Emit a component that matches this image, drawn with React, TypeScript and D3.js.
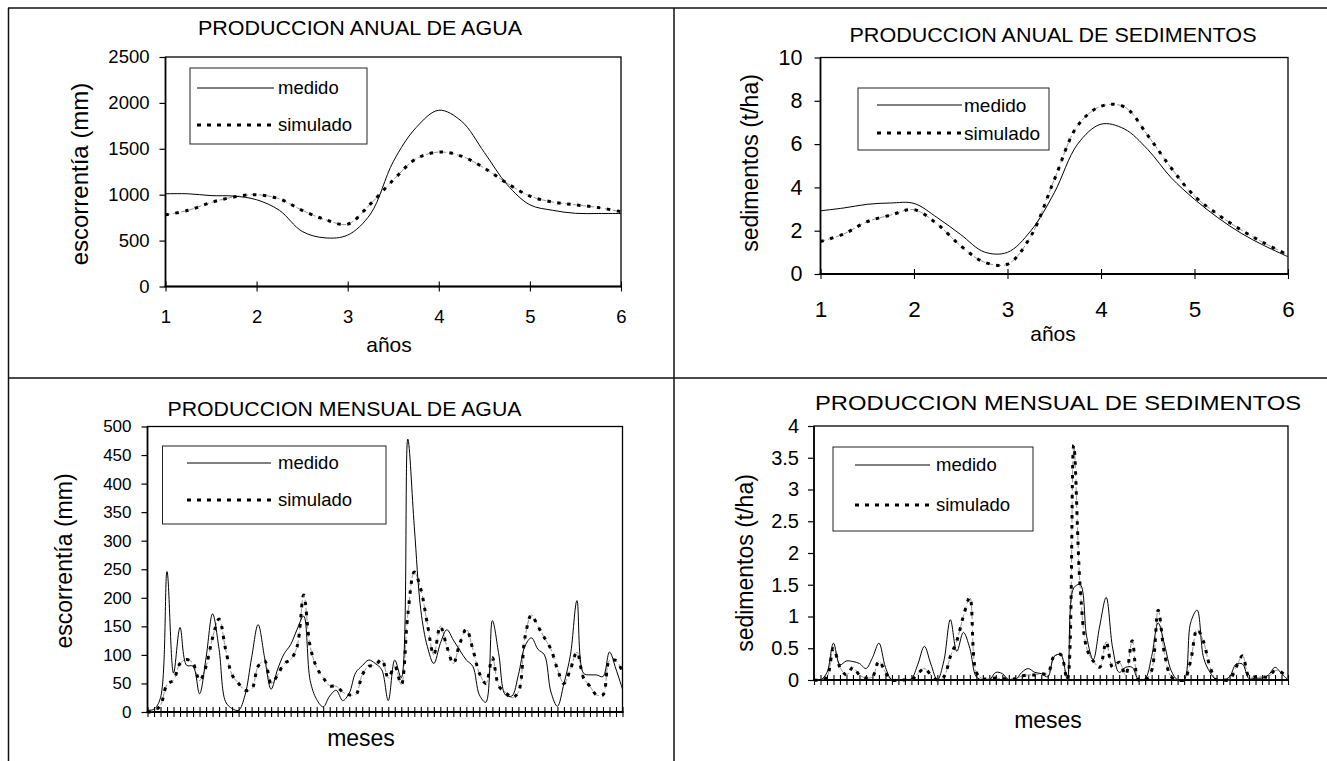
import React, { useEffect, useRef } from "react";
import * as d3 from "d3";

// annual charts: values read at quarter-year steps
const years = [1, 1.25, 1.5, 1.75, 2, 2.25, 2.5, 2.75, 3, 3.25, 3.5, 3.75, 4, 4.25, 4.5, 4.75, 5, 5.25, 5.5, 5.75, 6];
const yearTicks = [1, 2, 3, 4, 5, 6];

const aguaAnualMedido = [1010, 1010, 990, 985, 945, 830, 600, 530, 560, 790, 1360, 1730, 1920, 1800, 1460, 1110, 890, 830, 797, 795, 795];
const aguaAnualSimulado = [780, 830, 915, 975, 1000, 955, 830, 730, 680, 900, 1160, 1390, 1465, 1420, 1290, 1125, 985, 920, 890, 860, 815];

const sedAnualMedido = [2.92, 3.05, 3.22, 3.28, 3.26, 2.6, 1.82, 1.02, 1.0, 2.0, 3.75, 6.0, 6.92, 6.7, 5.75, 4.45, 3.45, 2.6, 1.88, 1.3, 0.8];
const sedAnualSimulado = [1.5, 1.85, 2.42, 2.72, 2.97, 2.3, 1.3, 0.55, 0.45, 1.75, 4.35, 6.85, 7.75, 7.72, 6.4, 4.9, 3.6, 2.75, 2.03, 1.42, 0.88];

// monthly charts: 74 months
const aguaMensualMedido = [
  3, 5, 25, 246, 68, 148, 82, 80, 32, 95,
  172, 110, 18, 6, 3, 30, 95, 153, 95, 40,
  75, 102, 118, 145, 168, 55, 22, 9, 28, 38,
  20, 33, 69, 81, 91, 85, 74, 20, 91, 60,
  478, 325, 179, 115, 85, 120, 144, 126, 108, 91,
  80, 30, 17, 160, 100, 30, 28, 65, 115, 130,
  110, 100, 35, 10, 50, 100, 195, 68, 65, 65,
  62, 105, 75, 40,
];
const aguaMensualSimulado = [
  0, 2, 12, 48, 56, 85, 92, 85, 55, 80,
  130, 163, 110, 65, 50, 38, 40, 80, 90, 50,
  65, 85, 92, 115, 205, 115, 78, 60, 46, 45,
  35, 30, 30, 65, 80, 82, 92, 60, 80, 48,
  170, 245, 215, 155, 100, 150, 115, 85, 120, 145,
  110, 68, 50, 95, 45, 35, 25, 35, 130, 170,
  150, 130, 110, 75, 50, 75, 105, 60, 45, 30,
  30, 90, 90, 70,
];
const sedMensualMedido = [
  0, 0, 0.12, 0.58, 0.24, 0.3, 0.29, 0.26, 0.18, 0.35,
  0.58, 0.2, 0, 0, 0, 0.02, 0.25, 0.53, 0.25, 0,
  0.3, 0.95, 0.45, 0.75, 0.5, 0.05, 0, 0, 0.12, 0.1,
  0, 0, 0.12, 0.18, 0.12, 0.1, 0.05, 0.37, 0.4, 0.02,
  1.45, 1.5, 0.68, 0.32, 0.85, 1.3, 0.5, 0.12, 0.2, 0.2,
  0, 0.02, 0.37, 0.9, 0.55, 0.15, 0, 0, 0.9, 1.1,
  0.35, 0.12, 0, 0, 0.05, 0.25, 0.25, 0.02, 0.03, 0.03,
  0.08, 0.2, 0.1, 0,
];
const sedMensualSimulado = [
  0, 0, 0.05, 0.5, 0.2, 0.08, 0.2, 0.08, 0.03, 0.05,
  0.3, 0.12, 0, 0, 0, 0, 0.1, 0.18, 0.08, 0,
  0.05, 0.37, 0.62, 1.0, 1.3, 0.12, 0.02, 0.02, 0.03, 0.02,
  0.02, 0.02, 0.06, 0.08, 0.08, 0.1, 0.1, 0.38, 0.4, 0,
  3.7, 1.45, 0.5, 0.3, 0.2, 0.6, 0.2, 0.28, 0.08, 0.62,
  0, 0, 0.15, 1.1, 0.4, 0.05, 0, 0, 0.3, 0.8,
  0.6, 0.2, 0, 0, 0, 0.2, 0.38, 0.05, 0.05, 0.05,
  0.05, 0.15, 0.12, 0.02,
];

const aguaAnualTicks = [0, 500, 1000, 1500, 2000, 2500];
const sedAnualTicks = [0, 2, 4, 6, 8, 10];
const aguaMensualTicks = [0, 50, 100, 150, 200, 250, 300, 350, 400, 450, 500];
const sedMensualTicks = [0, 0.5, 1, 1.5, 2, 2.5, 3, 3.5, 4];

const legendLabels = ["medido", "simulado"];

const FONT = "'Liberation Sans', Arial, Helvetica, sans-serif";

type Panel = {
  id: string;
  kind: "annual" | "monthly";
  med: number[];
  sim: number[];
  yTicks: number[];
  title: string; titleX: number; titleY: number; titleSize: number; titleWidth: number;
  left: number; right: number; top: number; bottom: number;
  yFont: number; yPad: number;
  xFont: number; xPad: number;
  yTitle: string; yTitleX: number; yTitleY: number; yTitleSize: number;
  xTitle: string; xTitleX: number; xTitleY: number; xTitleSize: number;
  legend: { x0: number; x1: number; y0: number; y1: number; lx0: number; lx1: number; tx: number; yMed: number; ySim: number; font: number };
};

const panels: Panel[] = [
  {
    id: "aa", kind: "annual", med: aguaAnualMedido, sim: aguaAnualSimulado, yTicks: aguaAnualTicks,
    title: "PRODUCCION ANUAL DE AGUA", titleX: 360, titleY: 27.5, titleSize: 19.5, titleWidth: 324,
    left: 165.5, right: 621, top: 57, bottom: 286.5,
    yFont: 18.5, yPad: 10, xFont: 18.5, xPad: 18,
    yTitle: "escorrentía (mm)", yTitleX: 80, yTitleY: 174, yTitleSize: 24,
    xTitle: "años", xTitleX: 389, xTitleY: 345, xTitleSize: 21,
    legend: { x0: 190, x1: 367, y0: 68, y1: 144, lx0: 197, lx1: 274, tx: 278, yMed: 88, ySim: 125, font: 18.5 },
  },
  {
    id: "sa", kind: "annual", med: sedAnualMedido, sim: sedAnualSimulado, yTicks: sedAnualTicks,
    title: "PRODUCCION ANUAL DE SEDIMENTOS", titleX: 1053, titleY: 35, titleSize: 20, titleWidth: 407,
    left: 820.5, right: 1288, top: 57.5, bottom: 274,
    yFont: 21.5, yPad: 12, xFont: 22.5, xPad: 22,
    yTitle: "sedimentos  (t/ha)", yTitleX: 750, yTitleY: 163, yTitleSize: 23,
    xTitle: "años", xTitleX: 1053, xTitleY: 334, xTitleSize: 21,
    legend: { x0: 858, x1: 1049, y0: 88, y1: 150, lx0: 877, lx1: 962, tx: 964, yMed: 105, ySim: 133, font: 19 },
  },
  {
    id: "am", kind: "monthly", med: aguaMensualMedido, sim: aguaMensualSimulado, yTicks: aguaMensualTicks,
    title: "PRODUCCION MENSUAL DE AGUA", titleX: 344.5, titleY: 409, titleSize: 20.5, titleWidth: 354,
    left: 147.5, right: 622.5, top: 426.5, bottom: 712,
    yFont: 17, yPad: 10, xFont: 16, xPad: 10,
    yTitle: "escorrentía (mm)", yTitleX: 64, yTitleY: 561, yTitleSize: 23,
    xTitle: "meses", xTitleX: 361, xTitleY: 738, xTitleSize: 23,
    legend: { x0: 162.5, x1: 386, y0: 446, y1: 524, lx0: 187, lx1: 271, tx: 278, yMed: 463, ySim: 500, font: 18.5 },
  },
  {
    id: "sm", kind: "monthly", med: sedMensualMedido, sim: sedMensualSimulado, yTicks: sedMensualTicks,
    title: "PRODUCCION MENSUAL DE SEDIMENTOS", titleX: 1058, titleY: 402, titleSize: 21, titleWidth: 486,
    left: 814, right: 1288, top: 426, bottom: 680,
    yFont: 20, yPad: 9, xFont: 16, xPad: 10,
    yTitle: "sedimentos  (t/ha)", yTitleX: 745, yTitleY: 563, yTitleSize: 23,
    xTitle: "meses", xTitleX: 1048, xTitleY: 720, xTitleSize: 23,
    legend: { x0: 833, x1: 1033, y0: 447, y1: 531, lx0: 855, lx1: 930, tx: 936, yMed: 465, ySim: 505, font: 18.5 },
  },
];

function drawPanel(svg: d3.Selection<SVGSVGElement, unknown, null, undefined>, p: Panel) {
  const g = svg.append("g");
  const y = d3.scaleLinear().domain([0, p.yTicks[p.yTicks.length - 1]]).range([p.bottom, p.top]);
  const months = d3.range(p.med.length);
  const xLin = d3.scaleLinear().domain([1, 6]).range([p.left, p.right]);
  const xPt = d3.scalePoint<number>().domain(months).range([p.left, p.right]);
  const xOf = (i: number) => (p.kind === "monthly" ? (xPt(i) as number) : xLin(years[i]));

  const clipId = "clip-" + p.id;
  g.append("clipPath").attr("id", clipId)
    .append("rect").attr("x", p.left).attr("y", p.top - 2)
    .attr("width", p.right - p.left + 2).attr("height", p.bottom - p.top + 4);

  // plot frame
  g.append("rect")
    .attr("x", p.left).attr("y", p.top)
    .attr("width", p.right - p.left).attr("height", p.bottom - p.top)
    .attr("fill", "none").attr("stroke", "#000").attr("stroke-width", 1.3);

  // y axis
  const ya = g.append("g").attr("transform", `translate(${p.left},0)`)
    .call(d3.axisLeft(y).tickValues(p.yTicks).tickSize(6).tickSizeOuter(0).tickPadding(p.yPad).tickFormat((d) => String(d)));
  ya.select(".domain").remove();
  ya.selectAll(".tick line").attr("stroke", "#000").attr("stroke-width", 1.2);
  ya.selectAll("text").attr("font-size", p.yFont).attr("font-family", FONT).attr("fill", "#000");

  // x axis
  const xAxis = p.kind === "monthly"
    ? d3.axisBottom(xPt).tickValues(months).tickFormat(() => "")
    : d3.axisBottom(xLin).tickValues(yearTicks).tickFormat((d) => String(d));
  const xa = g.append("g").attr("transform", `translate(0,${p.bottom})`)
    .call((xAxis as d3.Axis<any>).tickSize(5).tickSizeOuter(0).tickPadding(p.xPad));
  xa.select(".domain").remove();
  xa.selectAll(".tick line").attr("y1", -5).attr("stroke", "#000").attr("stroke-width", 1.1);
  xa.selectAll("text").attr("font-size", p.xFont).attr("font-family", FONT).attr("fill", "#000");
  g.append("line").attr("x1", p.left - 1).attr("x2", p.right + 1)
    .attr("y1", p.bottom).attr("y2", p.bottom).attr("stroke", "#000").attr("stroke-width", 2.2);
  g.append("line").attr("x1", p.left).attr("x2", p.left)
    .attr("y1", p.top).attr("y2", p.bottom).attr("stroke", "#000").attr("stroke-width", 1.6);

  // series
  const line = d3.line<number>()
    .x((_, i) => xOf(i))
    .y((d) => y(d))
    .curve(d3.curveCatmullRom.alpha(0.5));
  const series = g.append("g").attr("clip-path", `url(#${clipId})`).attr("fill", "none");
  series.append("path").datum(p.sim).attr("d", line)
    .attr("stroke", "#666").attr("stroke-width", 0.7).attr("stroke-dasharray", "5 3");
  series.append("path").datum(p.sim).attr("d", line)
    .attr("stroke", "#000").attr("stroke-width", 3).attr("stroke-dasharray", "3.5 6.5");
  series.append("path").datum(p.med).attr("d", line)
    .attr("stroke", "#000").attr("stroke-width", 1);

  // legend
  const L = p.legend;
  const lg = g.append("g");
  lg.append("rect").attr("x", L.x0).attr("y", L.y0).attr("width", L.x1 - L.x0).attr("height", L.y1 - L.y0)
    .attr("fill", "#fff").attr("stroke", "#222").attr("stroke-width", 1);
  lg.append("line").attr("x1", L.lx0).attr("x2", L.lx1).attr("y1", L.yMed).attr("y2", L.yMed)
    .attr("stroke", "#000").attr("stroke-width", 1);
  lg.append("line").attr("x1", L.lx0).attr("x2", L.lx1).attr("y1", L.ySim).attr("y2", L.ySim)
    .attr("stroke", "#000").attr("stroke-width", 3).attr("stroke-dasharray", "4 6");
  lg.selectAll("text.lab").data(legendLabels).join("text").attr("class", "lab")
    .attr("x", L.tx).attr("y", (_, i) => (i === 0 ? L.yMed : L.ySim)).attr("dy", "0.35em")
    .attr("font-size", L.font).attr("font-family", FONT).text((d) => d);

  // titles
  g.append("text").attr("x", p.titleX).attr("y", p.titleY).attr("dy", "0.36em")
    .attr("text-anchor", "middle").attr("font-size", p.titleSize).attr("font-family", FONT)
    .attr("textLength", p.titleWidth).attr("lengthAdjust", "spacingAndGlyphs").text(p.title);
  g.append("text").attr("transform", `translate(${p.yTitleX},${p.yTitleY}) rotate(-90)`).attr("dy", "0.35em")
    .attr("text-anchor", "middle").attr("font-size", p.yTitleSize).attr("font-family", FONT).text(p.yTitle);
  g.append("text").attr("x", p.xTitleX).attr("y", p.xTitleY).attr("dy", "0.35em")
    .attr("text-anchor", "middle").attr("font-size", p.xTitleSize).attr("font-family", FONT).text(p.xTitle);
}

export default function App() {
  const ref = useRef<SVGSVGElement>(null);

  useEffect(() => {
    const svg = d3.select(ref.current as SVGSVGElement);
    svg.selectAll("*").remove();

    // table grid around the four charts
    const grid = svg.append("g").attr("stroke", "#111").attr("stroke-width", 1.5);
    grid.append("line").attr("x1", 8).attr("x2", 1327).attr("y1", 8).attr("y2", 8);
    grid.append("line").attr("x1", 8).attr("x2", 1327).attr("y1", 378).attr("y2", 378);
    grid.append("line").attr("x1", 8.5).attr("x2", 8.5).attr("y1", 8).attr("y2", 761);
    grid.append("line").attr("x1", 674).attr("x2", 674).attr("y1", 8).attr("y2", 761);

    panels.forEach((p) => drawPanel(svg, p));
  }, []);

  return (
    <svg
      ref={ref}
      width={1327}
      height={761}
      style={{ position: "absolute", left: 0, top: 0, background: "#fff" }}
    />
  );
}
